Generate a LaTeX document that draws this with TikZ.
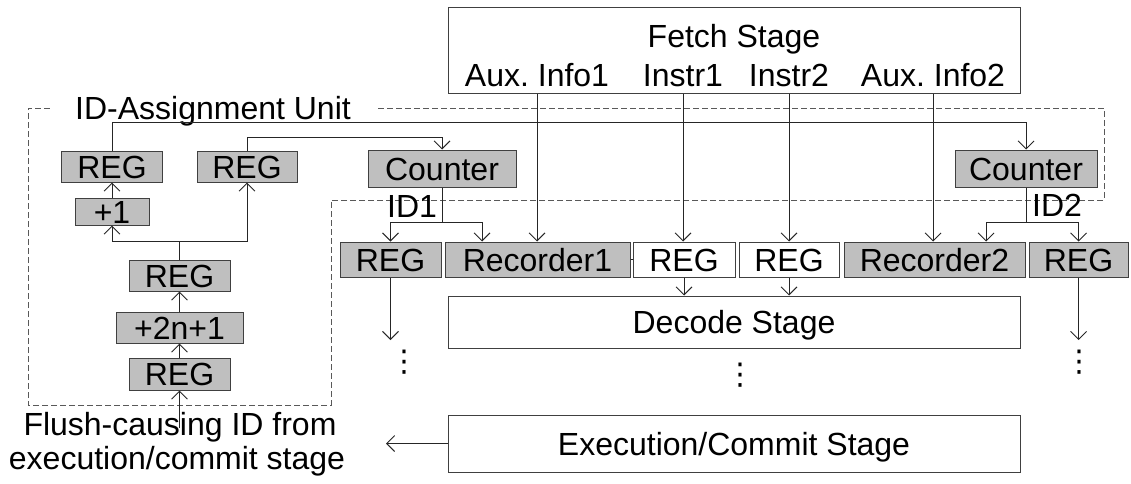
\documentclass[tikz,border=0pt]{standalone}
\usepackage{fontspec}
\setmainfont{Liberation Sans}
\newfontfamily\symfont{DejaVu Sans}
\usetikzlibrary{arrows.meta}

\begin{document}
\begin{tikzpicture}[x=1pt,y=-1pt,
  every node/.style={font=\fontsize{32}{37}\selectfont, inner sep=0pt},
  blk/.style={draw=black!75, line width=1pt, minimum height=35pt, text height=23pt, text depth=0pt},
  gblk/.style={blk, fill=black!25},
  wblk/.style={blk, fill=white},
  wire/.style={draw=black!85, line width=0.9pt},
  arr/.style={wire, -{Straight Barb[length=8pt,width=16pt]}},
  frame/.style={draw=black!65, line width=1pt, dash pattern=on 6pt off 3pt},
  lbl/.style={anchor=base},
  dots/.style={font=\symfont\fontsize{30}{30}\selectfont}
]
\useasboundingbox (0,0) rectangle (1131,483);

% ID-assignment unit outline
\draw[frame] (378,108) -- (1104,108) -- (1104,200) -- (331,200) -- (331,405)
  -- (28,405) -- (28,108) -- (50,108);
\node[lbl] (idu) at (213,119) {ID-Assignment Unit};

% fetch stage
\node[wblk, minimum width=572pt, minimum height=86pt] (fetch) at (734,50) {};
\node[lbl] (fs) at (734,47) {Fetch Stage};
\node[lbl] (ai1) at (537,86) {Aux.\ Info1};
\node[lbl] (in1) at (683,86) {Instr1};
\node[lbl] (in2) at (789,86) {Instr2};
\node[lbl] (ai2) at (933,86) {Aux.\ Info2};

% ID generation logic
\node[gblk, minimum width=101pt, minimum height=31pt] (regA) at (112,166.5) {REG};
\node[gblk, minimum width=100pt, minimum height=31pt] (regB) at (247,166.5) {REG};
\node[gblk, minimum width=74pt, minimum height=27pt] (plus1) at (112,211.5) {+1};
\node[gblk, minimum width=101pt, minimum height=31pt] (regC) at (179.5,275.5) {REG};
\node[gblk, minimum width=127pt, minimum height=31pt] (plus2n) at (179.5,327.5) {+2n+1};
\node[gblk, minimum width=101pt, minimum height=32pt] (regD) at (179.5,374) {REG};

% counters
\node[gblk, minimum width=148pt, minimum height=37pt] (cnt1) at (442,168.5) {Counter};
\node[gblk, minimum width=142pt, minimum height=37pt] (cnt2) at (1026,168.5) {Counter};
\node[lbl] (id1) at (412,217) {ID1};
\node[lbl] (id2) at (1057,216) {ID2};

% pipeline register row
\node[gblk, minimum width=101pt] (r1) at (390.5,259.5) {REG};
\node[gblk, minimum width=185pt] (rec1) at (537.5,259.5) {Recorder1};
\node[wblk, minimum width=102pt] (rw1) at (684,259.5) {REG};
\node[wblk, minimum width=100pt] (rw2) at (789,259.5) {REG};
\node[gblk, minimum width=181pt] (rec2) at (934.5,259.5) {Recorder2};
\node[gblk, minimum width=99pt] (r2) at (1078.5,259.5) {REG};

% later stages
\node[wblk, minimum width=572pt, minimum height=52pt] (dec) at (734,322) {Decode Stage};
\node[wblk, minimum width=572pt, minimum height=57pt] (exe) at (734,443.5) {Execution/Commit Stage};

\node[lbl] (fl1) at (180,435) {Flush-causing ID from};
\node[lbl] (fl2) at (177,469) {execution/commit stage};

\node[dots] (d1) at (404,362) {⋮};
\node[dots] (d2) at (740,375) {⋮};
\node[dots] (d3) at (1079,362) {⋮};

% routing levels
\coordinate (busA) at (0,122);
\coordinate (busB) at (0,137);
\coordinate (busC) at (0,241);
\coordinate (lvl) at (0,222);
\coordinate (lvlo) at (0,340);
\coordinate (t1) at (482,0);
\coordinate (t2) at (986,0);
\coordinate (fo) at (386,0);
\coordinate (flin) at (179.5,428);

\draw[wire] (rec1.east) -- (rw1.west);

% feedback to counters
\draw[arr] (regA.north) -- (regA.north |- busA) -| (cnt2.north);
\draw[arr] (regB.north) -- (regB.north |- busB) -| (cnt1.north);

% increment chain
\draw[arr] (plus1.north) -- (regA.south);
\draw[arr] (regC.north) -- (regC.north |- busC) -| (plus1.south);
\draw[arr] (regC.north |- busC) -| (regB.south);
\draw[arr] (plus2n.north) -- (regC.south);
\draw[arr] (regD.north) -- (plus2n.south);
\draw[arr] (flin) -- (regD.south);

% ID distribution
\draw[wire] (cnt1.south) -- (cnt1.south |- lvl) coordinate (j1);
\draw[arr] (j1) -| (r1.north);
\draw[arr] (j1) -| (t1 |- rec1.north);
\draw[wire] (cnt2.south) -- (cnt2.south |- lvl) coordinate (j2);
\draw[arr] (j2) -| (t2 |- rec2.north);
\draw[arr] (j2) -| (r2.north);

% fetch outputs
\draw[arr] (ai1 |- fetch.south) -- (ai1 |- rec1.north);
\draw[arr] (in1 |- fetch.south) -- (in1 |- rw1.north);
\draw[arr] (in2 |- fetch.south) -- (in2 |- rw2.north);
\draw[arr] (ai2 |- fetch.south) -- (ai2 |- rec2.north);

% decode inputs
\draw[arr] (rw1.south) -- (rw1.south |- dec.north);
\draw[arr] (rw2.south) -- (rw2.south |- dec.north);

% ID outputs down the pipeline
\draw[arr] (r1.south) -- (r1.south |- lvlo);
\draw[arr] (r2.south) -- (r2.south |- lvlo);

% flush feedback
\draw[arr] (exe.west) -- (fo |- exe.west);
\end{tikzpicture}
\end{document}
